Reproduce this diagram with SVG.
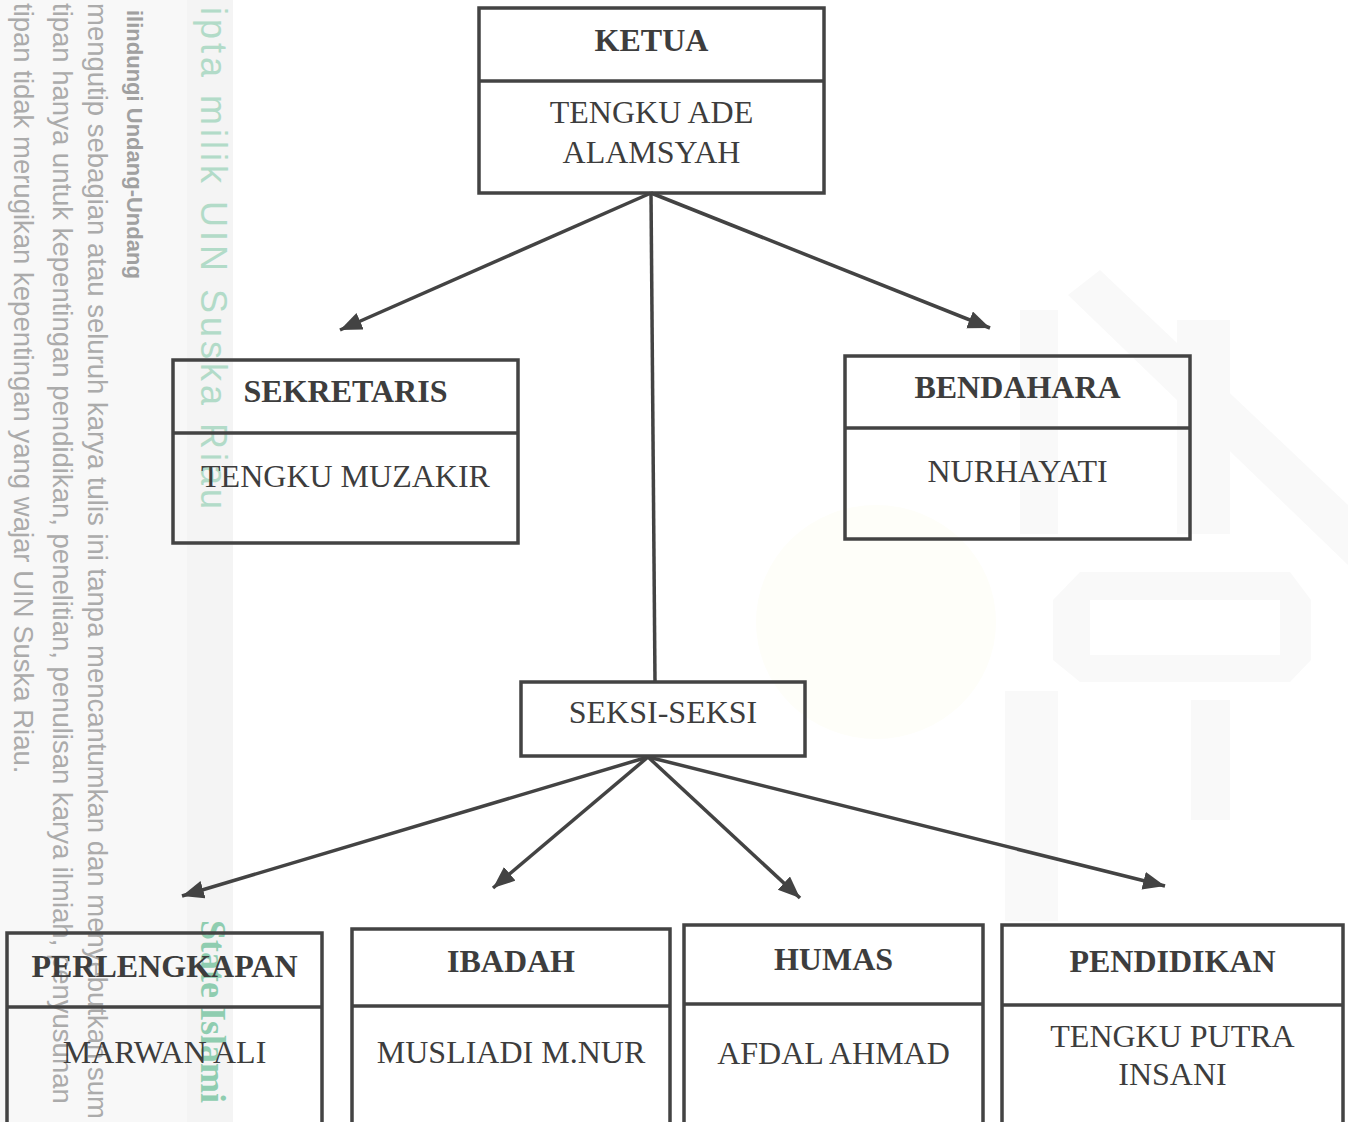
<svg xmlns="http://www.w3.org/2000/svg" width="1348" height="1122" viewBox="0 0 1348 1122">
  <style>
    .box { fill: none; stroke: #434343; stroke-width: 3.5; }
    .div { stroke: #434343; stroke-width: 3.5; }
    .title { font-family: "Liberation Serif", "Times New Roman", serif; font-weight: bold; font-size: 32px; fill: #3d3d3d; text-anchor: middle; }
    .name { font-family: "Liberation Serif", "Times New Roman", serif; font-size: 32px; fill: #3d3d3d; text-anchor: middle; }
    .conn { stroke: #434343; stroke-width: 3.5; fill: none; }
    .wm { font-family: "Liberation Sans", Arial, sans-serif; font-size: 27.5px; fill: #ababab; }
    .wmb { font-family: "Liberation Sans", Arial, sans-serif; font-size: 22px; font-weight: bold; fill: #a0a0a0; }
    .wmg { font-family: "Liberation Sans", Arial, sans-serif; font-size: 36px; fill: #b2dbc8; letter-spacing: 4px; }
    .wmg2 { font-family: "Liberation Serif", "Times New Roman", serif; font-size: 36px; font-weight: bold; fill: #8fcdb0; }
    .logo { fill: #f9f9f9; }
  </style>
  <defs>
    <marker id="arrow" markerUnits="userSpaceOnUse" markerWidth="24" markerHeight="20" refX="22" refY="9" orient="auto">
      <path d="M0,0 L22,9 L0,18 z" fill="#434343"/>
    </marker>
  </defs>

  <rect x="0" y="0" width="1348" height="1122" fill="#ffffff"/>

  <g id="background-logo">
    <ellipse cx="876" cy="622" rx="120" ry="117" fill="#fefef9"/>
    <path class="logo" d="M1068,295 L1100,270 L1348,505 L1348,565 Z"/>
    <rect class="logo" x="1020" y="310" width="38" height="224"/>
    <rect class="logo" x="1177" y="320" width="53" height="214"/>
    <path class="logo" d="M1080,572 L1290,572 L1311,600 L1311,660 L1290,682 L1080,682 L1053,660 L1053,600 Z M1090,600 L1280,600 L1280,655 L1090,655 Z" fill-rule="evenodd"/>
    <rect class="logo" x="1005" y="691" width="53" height="230"/>
    <rect class="logo" x="1191" y="700" width="39" height="120"/>
  </g>

  <g id="watermark">
    <rect x="0" y="0" width="187" height="1122" fill="#f8f8f8"/>
    <rect x="187" y="0" width="46" height="1122" fill="#f4f4f4"/>
    <text class="wm" transform="translate(14,3) rotate(90)">tipan tidak merugikan kepentingan yang wajar UIN Suska Riau.</text>
    <text class="wm" transform="translate(53,3) rotate(90)">tipan hanya untuk kepentingan pendidikan, penelitian, penulisan karya ilmiah, penyusunan</text>
    <text class="wm" transform="translate(88,3) rotate(90)">mengutip sebagian atau seluruh karya tulis ini tanpa mencantumkan dan menyebutkan sum</text>
    <text class="wmb" transform="translate(127,10) rotate(90)">ilindungi Undang-Undang</text>
    <text class="wmg" transform="translate(201,7) rotate(90)">ipta milik UIN Suska Riau</text>
    <text class="wmg2" transform="translate(201,920) rotate(90)">State Islami</text>
  </g>

  <g id="connectors">
    <line class="conn" x1="651" y1="193" x2="340" y2="330" marker-end="url(#arrow)"/>
    <line class="conn" x1="651" y1="193" x2="990" y2="328" marker-end="url(#arrow)"/>
    <line class="conn" x1="651" y1="193" x2="655" y2="682"/>
    <line class="conn" x1="648" y1="757" x2="182" y2="896" marker-end="url(#arrow)"/>
    <line class="conn" x1="648" y1="757" x2="493" y2="888" marker-end="url(#arrow)"/>
    <line class="conn" x1="648" y1="757" x2="800" y2="898" marker-end="url(#arrow)"/>
    <line class="conn" x1="648" y1="757" x2="1165" y2="886" marker-end="url(#arrow)"/>
  </g>

  <g id="ketua">
    <rect class="box" x="479" y="8" width="345" height="185" fill="#ffffff"/>
    <line class="div" x1="479" y1="81" x2="824" y2="81"/>
    <text class="title" x="651.5" y="51">KETUA</text>
    <text class="name" x="651.5" y="123">TENGKU ADE</text>
    <text class="name" x="651.5" y="163">ALAMSYAH</text>
  </g>

  <g id="sekretaris">
    <rect class="box" x="173" y="360" width="345" height="183"/>
    <line class="div" x1="173" y1="433" x2="518" y2="433"/>
    <text class="title" x="345.5" y="402">SEKRETARIS</text>
    <text class="name" x="345.5" y="487">TENGKU MUZAKIR</text>
  </g>

  <g id="bendahara">
    <rect class="box" x="845" y="356" width="345" height="183"/>
    <line class="div" x1="845" y1="428" x2="1190" y2="428"/>
    <text class="title" x="1017.5" y="398">BENDAHARA</text>
    <text class="name" x="1017.5" y="482">NURHAYATI</text>
  </g>

  <g id="seksi">
    <rect class="box" x="521" y="682" width="284" height="74"/>
    <text class="name" x="663" y="723">SEKSI-SEKSI</text>
  </g>

  <g id="perlengkapan">
    <rect class="box" x="7" y="933" width="315" height="200"/>
    <line class="div" x1="7" y1="1007" x2="322" y2="1007"/>
    <text class="title" x="164.5" y="977">PERLENGKAPAN</text>
    <text class="name" x="164.5" y="1063">MARWAN ALI</text>
  </g>

  <g id="ibadah">
    <rect class="box" x="352" y="929" width="318" height="200"/>
    <line class="div" x1="352" y1="1006" x2="670" y2="1006"/>
    <text class="title" x="511" y="972">IBADAH</text>
    <text class="name" x="511" y="1063">MUSLIADI M.NUR</text>
  </g>

  <g id="humas">
    <rect class="box" x="684" y="925" width="299" height="200"/>
    <line class="div" x1="684" y1="1004" x2="983" y2="1004"/>
    <text class="title" x="833.5" y="970">HUMAS</text>
    <text class="name" x="833.5" y="1064">AFDAL AHMAD</text>
  </g>

  <g id="pendidikan">
    <rect class="box" x="1002" y="925" width="341" height="200"/>
    <line class="div" x1="1002" y1="1005" x2="1343" y2="1005"/>
    <text class="title" x="1172.5" y="972">PENDIDIKAN</text>
    <text class="name" x="1172.5" y="1047">TENGKU PUTRA</text>
    <text class="name" x="1172.5" y="1085">INSANI</text>
  </g>
</svg>
